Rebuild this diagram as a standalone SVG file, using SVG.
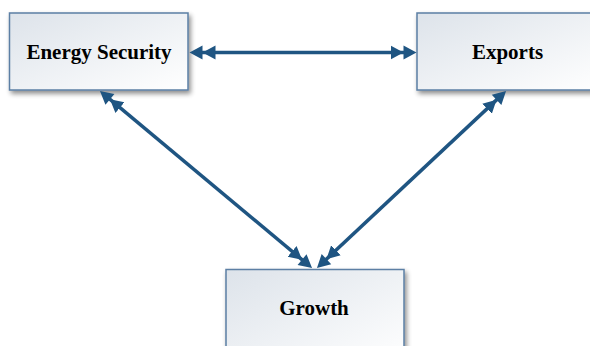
<svg xmlns="http://www.w3.org/2000/svg" width="590" height="346" viewBox="0 0 590 346">
<style>
.box{fill:url(#g);stroke:#5b7fa4;stroke-width:1.5;filter:url(#sh)}
.lbl{font-family:"Liberation Serif","Times New Roman",serif;font-weight:bold;font-size:21px;fill:#000;text-anchor:middle}
.conn{stroke:#1f5582;stroke-width:3.5;fill:none;marker-start:url(#dh);marker-end:url(#dh)}
</style>
<defs>
<linearGradient id="g" x1="0" y1="0" x2="1" y2="1">
<stop offset="0" stop-color="#dde3ea"/>
<stop offset="1" stop-color="#ffffff"/>
</linearGradient>
<filter id="sh" x="-10%" y="-10%" width="130%" height="140%">
<feGaussianBlur in="SourceAlpha" stdDeviation="2.5"/>
<feOffset dx="2" dy="3" result="b"/>
<feComponentTransfer><feFuncA type="linear" slope="0.45"/></feComponentTransfer>
<feMerge><feMergeNode/><feMergeNode in="SourceGraphic"/></feMerge>
</filter>
<marker id="dh" markerUnits="userSpaceOnUse" markerWidth="30" markerHeight="16" viewBox="0 -8 30 16" refX="21" refY="0" orient="auto-start-reverse">
<path d="M26,0 L13,-7 L13,7 Z M13,0 L0,-7 L0,7 Z" fill="#1f5582"/>
</marker>
</defs>
<g id="energy-security">
<rect class="box" x="9.5" y="13" width="178.5" height="77"/>
<text class="lbl" x="99" y="59">Energy Security</text>
</g>
<g id="exports">
<rect class="box" x="417" y="13" width="185" height="77"/>
<text class="lbl" x="507.5" y="59">Exports</text>
</g>
<g id="growth">
<rect class="box" x="226" y="269.5" width="178" height="95"/>
<text class="lbl" x="314" y="315">Growth</text>
</g>
<g id="connectors">
<line class="conn" x1="194.5" y1="52.5" x2="411.5" y2="52.5"/>
<line class="conn" x1="103.8" y1="94.2" x2="308.2" y2="264.8"/>
<line class="conn" x1="502.4" y1="94.4" x2="320.6" y2="264.6"/>
</g>
</svg>
